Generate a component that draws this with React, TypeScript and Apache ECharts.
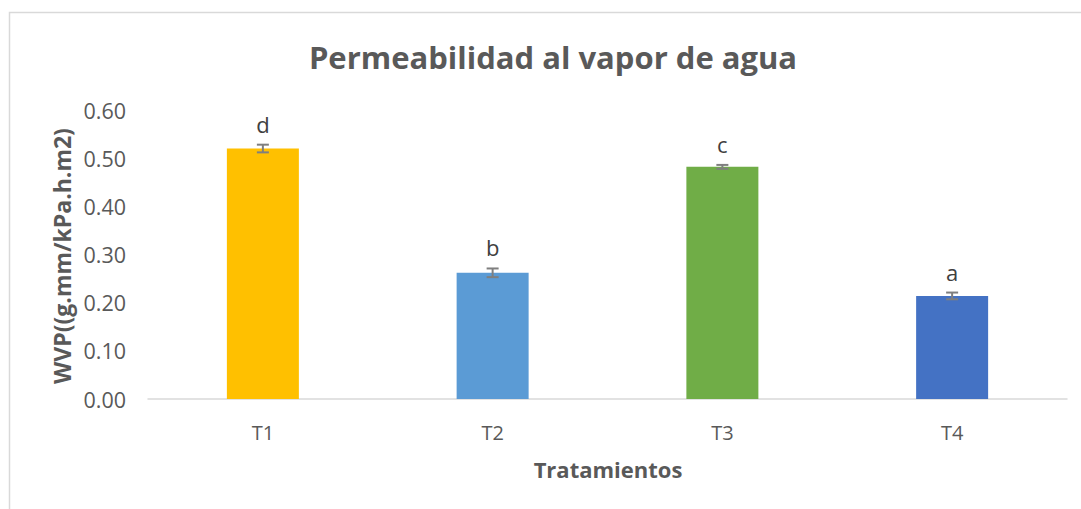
import React, { useEffect, useRef } from "react";
import * as echarts from "echarts";

const categories = ["T1", "T2", "T3", "T4"];
const values = [0.52, 0.262, 0.482, 0.214];
const errors = [0.008, 0.009, 0.004, 0.007];
const letters = ["d", "b", "c", "a"];
const barColors = ["#FFC000", "#5B9BD5", "#70AD47", "#4472C4"];
const yTicks = [0, 0.1, 0.2, 0.3, 0.4, 0.5, 0.6];

const FONT = "'Open Sans', 'Noto Sans', sans-serif";

export default function App() {
  const ref = useRef<HTMLDivElement>(null);
  useEffect(() => {
    document.body.style.margin = "0";
    const chart = echarts.init(ref.current!, null, { renderer: "svg" });
    chart.setOption({
      animation: false,
      backgroundColor: "#ffffff",
      grid: { left: 148, right: 14, top: 110, bottom: 110, containLabel: false },
      xAxis: {
        type: "category",
        data: categories,
        axisLine: { show: true, lineStyle: { color: "#D9D9D9", width: 1.5 } },
        axisTick: { show: false },
        axisLabel: { color: "#595959", fontSize: 20, fontFamily: FONT, margin: 23 },
      },
      yAxis: {
        type: "value",
        min: yTicks[0],
        max: yTicks[yTicks.length - 1],
        interval: 0.1,
        splitLine: { show: false },
        axisLine: { show: false },
        axisTick: { show: false },
        axisLabel: {
          color: "#595959",
          fontSize: 21.5,
          fontFamily: FONT,
          margin: 22,
          formatter: (v: number) => v.toFixed(2),
        },
      },
      graphic: [
        {
          type: "rect",
          shape: { x: 9.5, y: 12.5, width: 1200, height: 600 },
          style: { fill: "none", stroke: "#D9D9D9", lineWidth: 1.5 },
          silent: true,
        },
        {
          type: "text",
          x: 553,
          y: 57,
          style: {
            text: "Permeabilidad al vapor de agua",
            fontSize: 31,
            fontWeight: "bold",
            fontFamily: FONT,
            fill: "#595959",
            textAlign: "center",
            textVerticalAlign: "middle",
          },
        },
        {
          type: "text",
          x: 608,
          y: 469,
          style: {
            text: "Tratamientos",
            fontSize: 22,
            fontWeight: "bold",
            fontFamily: FONT,
            fill: "#595959",
            textAlign: "center",
            textVerticalAlign: "middle",
          },
        },
        {
          type: "text",
          x: 62,
          y: 256,
          rotation: Math.PI / 2,
          style: {
            text: "WVP((g.mm/kPa.h.m2)",
            fontSize: 23,
            fontWeight: "bold",
            fontFamily: FONT,
            fill: "#595959",
            textAlign: "center",
            textVerticalAlign: "middle",
          },
        },
      ],
      series: [
        {
          type: "bar",
          barWidth: 72,
          data: values.map((v, i) => ({ value: v, itemStyle: { color: barColors[i] } })),
        },
        {
          type: "custom",
          data: values.map((v, i) => [i, v]),
          z: 10,
          renderItem: (params: any, api: any) => {
            const i = params.dataIndex;
            const x = api.coord([i, 0])[0];
            const top = api.coord([i, values[i] + errors[i]])[1];
            const bot = api.coord([i, values[i] - errors[i]])[1];
            const hw = 6;
            const st = { stroke: "#7F7F7F", lineWidth: 2 };
            return {
              type: "group",
              children: [
                { type: "line", shape: { x1: x, y1: top, x2: x, y2: bot }, style: st },
                { type: "line", shape: { x1: x - hw, y1: top, x2: x + hw, y2: top }, style: st },
                { type: "line", shape: { x1: x - hw, y1: bot, x2: x + hw, y2: bot }, style: st },
                {
                  type: "text",
                  x: x,
                  y: top - 21,
                  style: {
                    text: letters[i],
                    fontSize: 22,
                    fontFamily: FONT,
                    fill: "#404040",
                    textAlign: "center",
                    textVerticalAlign: "middle",
                  },
                },
              ],
            };
          },
        },
      ],
    });
    return () => chart.dispose();
  }, []);
  return <div ref={ref} style={{ width: 1081, height: 509 }} />;
}
